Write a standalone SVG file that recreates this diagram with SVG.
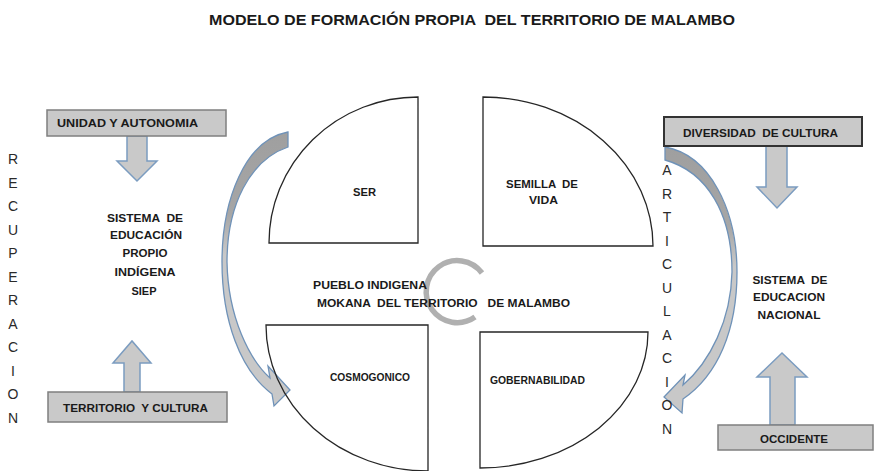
<svg xmlns="http://www.w3.org/2000/svg" width="876" height="471" viewBox="0 0 876 471">
<style>
.t{font-family:"Liberation Sans",Arial,sans-serif;font-weight:bold;fill:#1a1a1a;white-space:pre}
.v{font-family:"Liberation Sans",Arial,sans-serif;font-size:14px;fill:#2a2a2a;text-anchor:middle}
.box{fill:#c9c9c9;stroke:#7f7f7f;stroke-width:1.5}
.blk{fill:#c9c9c9;stroke:#7b9cc0;stroke-width:1.5;stroke-linejoin:miter}
.q{fill:none;stroke:#262626;stroke-width:1.3}
.cur{fill:url(#g);stroke:#6f92b8;stroke-width:1.3}
</style>
<defs>
<linearGradient id="g" x1="0" y1="0" x2="0" y2="1">
<stop offset="0" stop-color="#9f9f9f"/>
<stop offset="0.3" stop-color="#a6a6a6"/>
<stop offset="0.45" stop-color="#c8c8c8"/>
<stop offset="1" stop-color="#c8c8c8"/>
</linearGradient>
</defs>
<rect width="876" height="471" fill="#fff"/>
<text class="t" x="209" y="25" font-size="15" textLength="526" lengthAdjust="spacingAndGlyphs">MODELO DE FORMACIÓN PROPIA  DEL TERRITORIO DE MALAMBO</text>

<g id="connectors">
<path class="cur" d="M288,132 C245,140 222,200 222,262 C222,320 240,370 272,394 L274,406 L290,390 L268,366 L270,378 C250,360 228,318 227,262 C227,205 250,160 288,147 Z"/>
<path class="cur" d="M665,147 C710,155 737,210 737,272 C737,330 718,375 683,399 L682,413 L664,397 L685,375 L683,385 C710,362 731,320 732,272 C732,215 708,172 665,160 Z"/>
<path class="blk" d="M127,136 L147,136 L147,161 L157,161 L137,181 L117,161 L127,161 Z"/>
<path class="blk" d="M124,392 L140,392 L140,363 L151,363 L132,341 L113,363 L124,363 Z"/>
<path class="blk" d="M766,146 L787,146 L787,187 L797,187 L777,208 L757,187 L766,187 Z"/>
<path class="blk" d="M770,425 L795,425 L795,377 L807,377 L782,353 L757,377 L770,377 Z"/>
<path d="M482,273 A31 31 0 1 0 475,317" fill="none" stroke="#b0b0b0" stroke-width="5.5"/>
</g>

<g id="ser"><path class="q" d="M418,97 L418,243 L269,243 A149 146 0 0 1 418,97 Z"/>
<text class="t" x="353" y="196" font-size="10" textLength="23" lengthAdjust="spacingAndGlyphs">SER</text></g>
<g id="semilla"><path class="q" d="M483,97 L483,246 L653,246 A170 149 0 0 0 483,97 Z"/>
<text class="t" x="506" y="188" font-size="10" textLength="72" lengthAdjust="spacingAndGlyphs">SEMILLA  DE</text>
<text class="t" x="529" y="204" font-size="10" textLength="29" lengthAdjust="spacingAndGlyphs">VIDA</text></g>
<g id="cosmogonico"><path class="q" d="M266,325 L428,325 L428,471 A162 146 0 0 1 266,325 Z"/>
<text class="t" x="330" y="381" font-size="10" textLength="80" lengthAdjust="spacingAndGlyphs">COSMOGONICO</text></g>
<g id="gobernabilidad"><path class="q" d="M480,332 L648,332 A168 136 0 0 1 480,468 Z"/>
<text class="t" x="490" y="384" font-size="10" textLength="95" lengthAdjust="spacingAndGlyphs">GOBERNABILIDAD</text></g>
<g id="pueblo">
<text class="t" x="313" y="289" font-size="10.5" textLength="114" lengthAdjust="spacingAndGlyphs">PUEBLO INDIGENA</text>
<text class="t" x="317" y="307" font-size="10.5" textLength="253" lengthAdjust="spacingAndGlyphs">MOKANA  DEL TERRITORIO   DE MALAMBO</text></g>

<g id="unidad"><rect class="box" x="47" y="110" width="179" height="26"/>
<text class="t" x="57" y="127" font-size="10.5" textLength="141" lengthAdjust="spacingAndGlyphs">UNIDAD Y AUTONOMIA</text></g>
<g id="territorio"><rect class="box" x="48" y="392" width="179" height="30"/>
<text class="t" x="63" y="412" font-size="10.5" textLength="145" lengthAdjust="spacingAndGlyphs">TERRITORIO  Y CULTURA</text></g>
<g id="siep" text-anchor="middle">
<text class="t" x="145" y="222" font-size="10.5" textLength="76" lengthAdjust="spacingAndGlyphs">SISTEMA  DE</text>
<text class="t" x="146" y="239" font-size="10.5" textLength="72" lengthAdjust="spacingAndGlyphs">EDUCACIÓN</text>
<text class="t" x="145" y="257" font-size="10.5" textLength="45" lengthAdjust="spacingAndGlyphs">PROPIO</text>
<text class="t" x="145" y="276" font-size="10.5" textLength="61" lengthAdjust="spacingAndGlyphs">INDÍGENA</text>
<text class="t" x="144" y="295" font-size="10.5" textLength="25" lengthAdjust="spacingAndGlyphs">SIEP</text></g>

<g id="diversidad"><rect x="664" y="117" width="198" height="29" fill="#c9c9c9" stroke="#333" stroke-width="2"/>
<text class="t" x="683" y="137" font-size="10.5" textLength="155" lengthAdjust="spacingAndGlyphs">DIVERSIDAD  DE CULTURA</text></g>
<g id="occidente"><rect class="box" x="718" y="425" width="155" height="25" stroke="#6d7d8d"/>
<text class="t" x="760" y="443" font-size="10.5" textLength="68" lengthAdjust="spacingAndGlyphs">OCCIDENTE</text></g>
<g id="nacional" text-anchor="middle">
<text class="t" x="790" y="284" font-size="10.5" textLength="75" lengthAdjust="spacingAndGlyphs">SISTEMA  DE</text>
<text class="t" x="789" y="301" font-size="10.5" textLength="72" lengthAdjust="spacingAndGlyphs">EDUCACION</text>
<text class="t" x="789" y="319" font-size="10.5" textLength="63" lengthAdjust="spacingAndGlyphs">NACIONAL</text></g>

<g id="recuperacion">
<text class="v" x="13" y="164">R</text><text class="v" x="13" y="187.5">E</text><text class="v" x="13" y="211">C</text><text class="v" x="13" y="234.5">U</text><text class="v" x="13" y="258">P</text><text class="v" x="13" y="281.5">E</text><text class="v" x="13" y="305">R</text><text class="v" x="13" y="328.5">A</text><text class="v" x="13" y="352">C</text><text class="v" x="13" y="375.5">I</text><text class="v" x="13" y="399">O</text><text class="v" x="13" y="422.5">N</text>
</g>
<g id="articulacion">
<text class="v" x="667" y="175">A</text><text class="v" x="667" y="198.5">R</text><text class="v" x="667" y="222">T</text><text class="v" x="667" y="245.5">I</text><text class="v" x="667" y="269">C</text><text class="v" x="667" y="292.5">U</text><text class="v" x="667" y="316">L</text><text class="v" x="667" y="339.5">A</text><text class="v" x="667" y="363">C</text><text class="v" x="667" y="386.5">I</text><text class="v" x="667" y="410">O</text><text class="v" x="667" y="433.5">N</text>
</g>
</svg>
